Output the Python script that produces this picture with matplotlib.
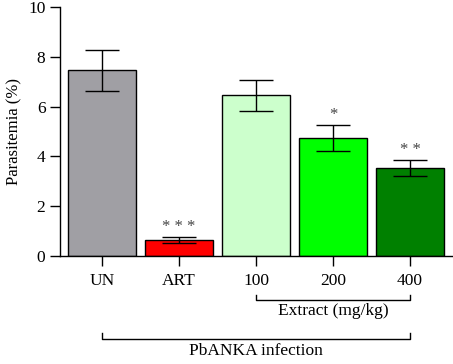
import matplotlib

matplotlib.use("Agg")
import matplotlib.pyplot as plt
import matplotlib.transforms as mtransforms

plt.rcParams["font.family"] = ["Liberation Serif", "DejaVu Serif"]

groups = ["UN", "ART", "100", "200", "400"]
parasitemia = [7.45, 0.65, 6.45, 4.75, 3.55]
sem = [0.82, 0.13, 0.62, 0.52, 0.32]
stars = ["", "* * *", "", "*", "* *"]
bar_colors = ["#A09FA4", "#FF0000", "#CCFFCC", "#00FF00", "#008000"]

fig = plt.figure(figsize=(4.53, 3.64), dpi=100)
ax = fig.add_axes([60 / 453, 108 / 364, 392 / 453, 249 / 364])

x = list(range(len(groups)))
ax.bar(x, parasitemia, width=0.88, color=bar_colors, edgecolor="black", linewidth=1.0, zorder=2)
ax.errorbar(x, parasitemia, yerr=sem, fmt="none", ecolor="black", elinewidth=1.0,
            capsize=12, capthick=1.0, zorder=3)

for xi, v, e, s in zip(x, parasitemia, sem, stars):
    if s:
        ax.annotate(s, (xi, v + e), xytext=(0, 1), textcoords="offset points",
                    ha="center", va="bottom", fontsize=12, color="#444444")

ax.set_xlim(-0.545, 4.545)
ax.set_ylim(0, 10)
ax.set_yticks([0, 2, 4, 6, 8, 10])
ax.set_xticks(x)
ax.set_xticklabels(groups, fontsize=12.5)
ax.tick_params(axis="y", labelsize=12.5, length=7, width=1.0, direction="out")
ax.tick_params(axis="x", length=7, width=1.0, direction="out", pad=5)
ax.set_ylabel("Parasitemia (%)", fontsize=12)
ax.spines["top"].set_visible(False)
ax.spines["right"].set_visible(False)
ax.spines["left"].set_linewidth(1.0)
ax.spines["bottom"].set_linewidth(1.0)

# Group brackets below the axis
trans = mtransforms.blended_transform_factory(ax.transData, fig.transFigure)


def bracket(x0, x1, y, tip, label, ty, va):
    ax.plot([x0, x0, x1, x1], [tip, y, y, tip], color="black", lw=1.0,
            transform=trans, clip_on=False)
    ax.text((x0 + x1) / 2, ty, label, ha="center", va=va, fontsize=12.5, transform=trans)


bracket(2, 4, 1 - 300 / 364, 1 - 295 / 364, "Extract (mg/kg)", 1 - 303 / 364, "top")
bracket(0, 4, 1 - 339 / 364, 1 - 333 / 364, "PbANKA infection", 1 - 343 / 364, "top")

fig.savefig("out.png", dpi=100)
